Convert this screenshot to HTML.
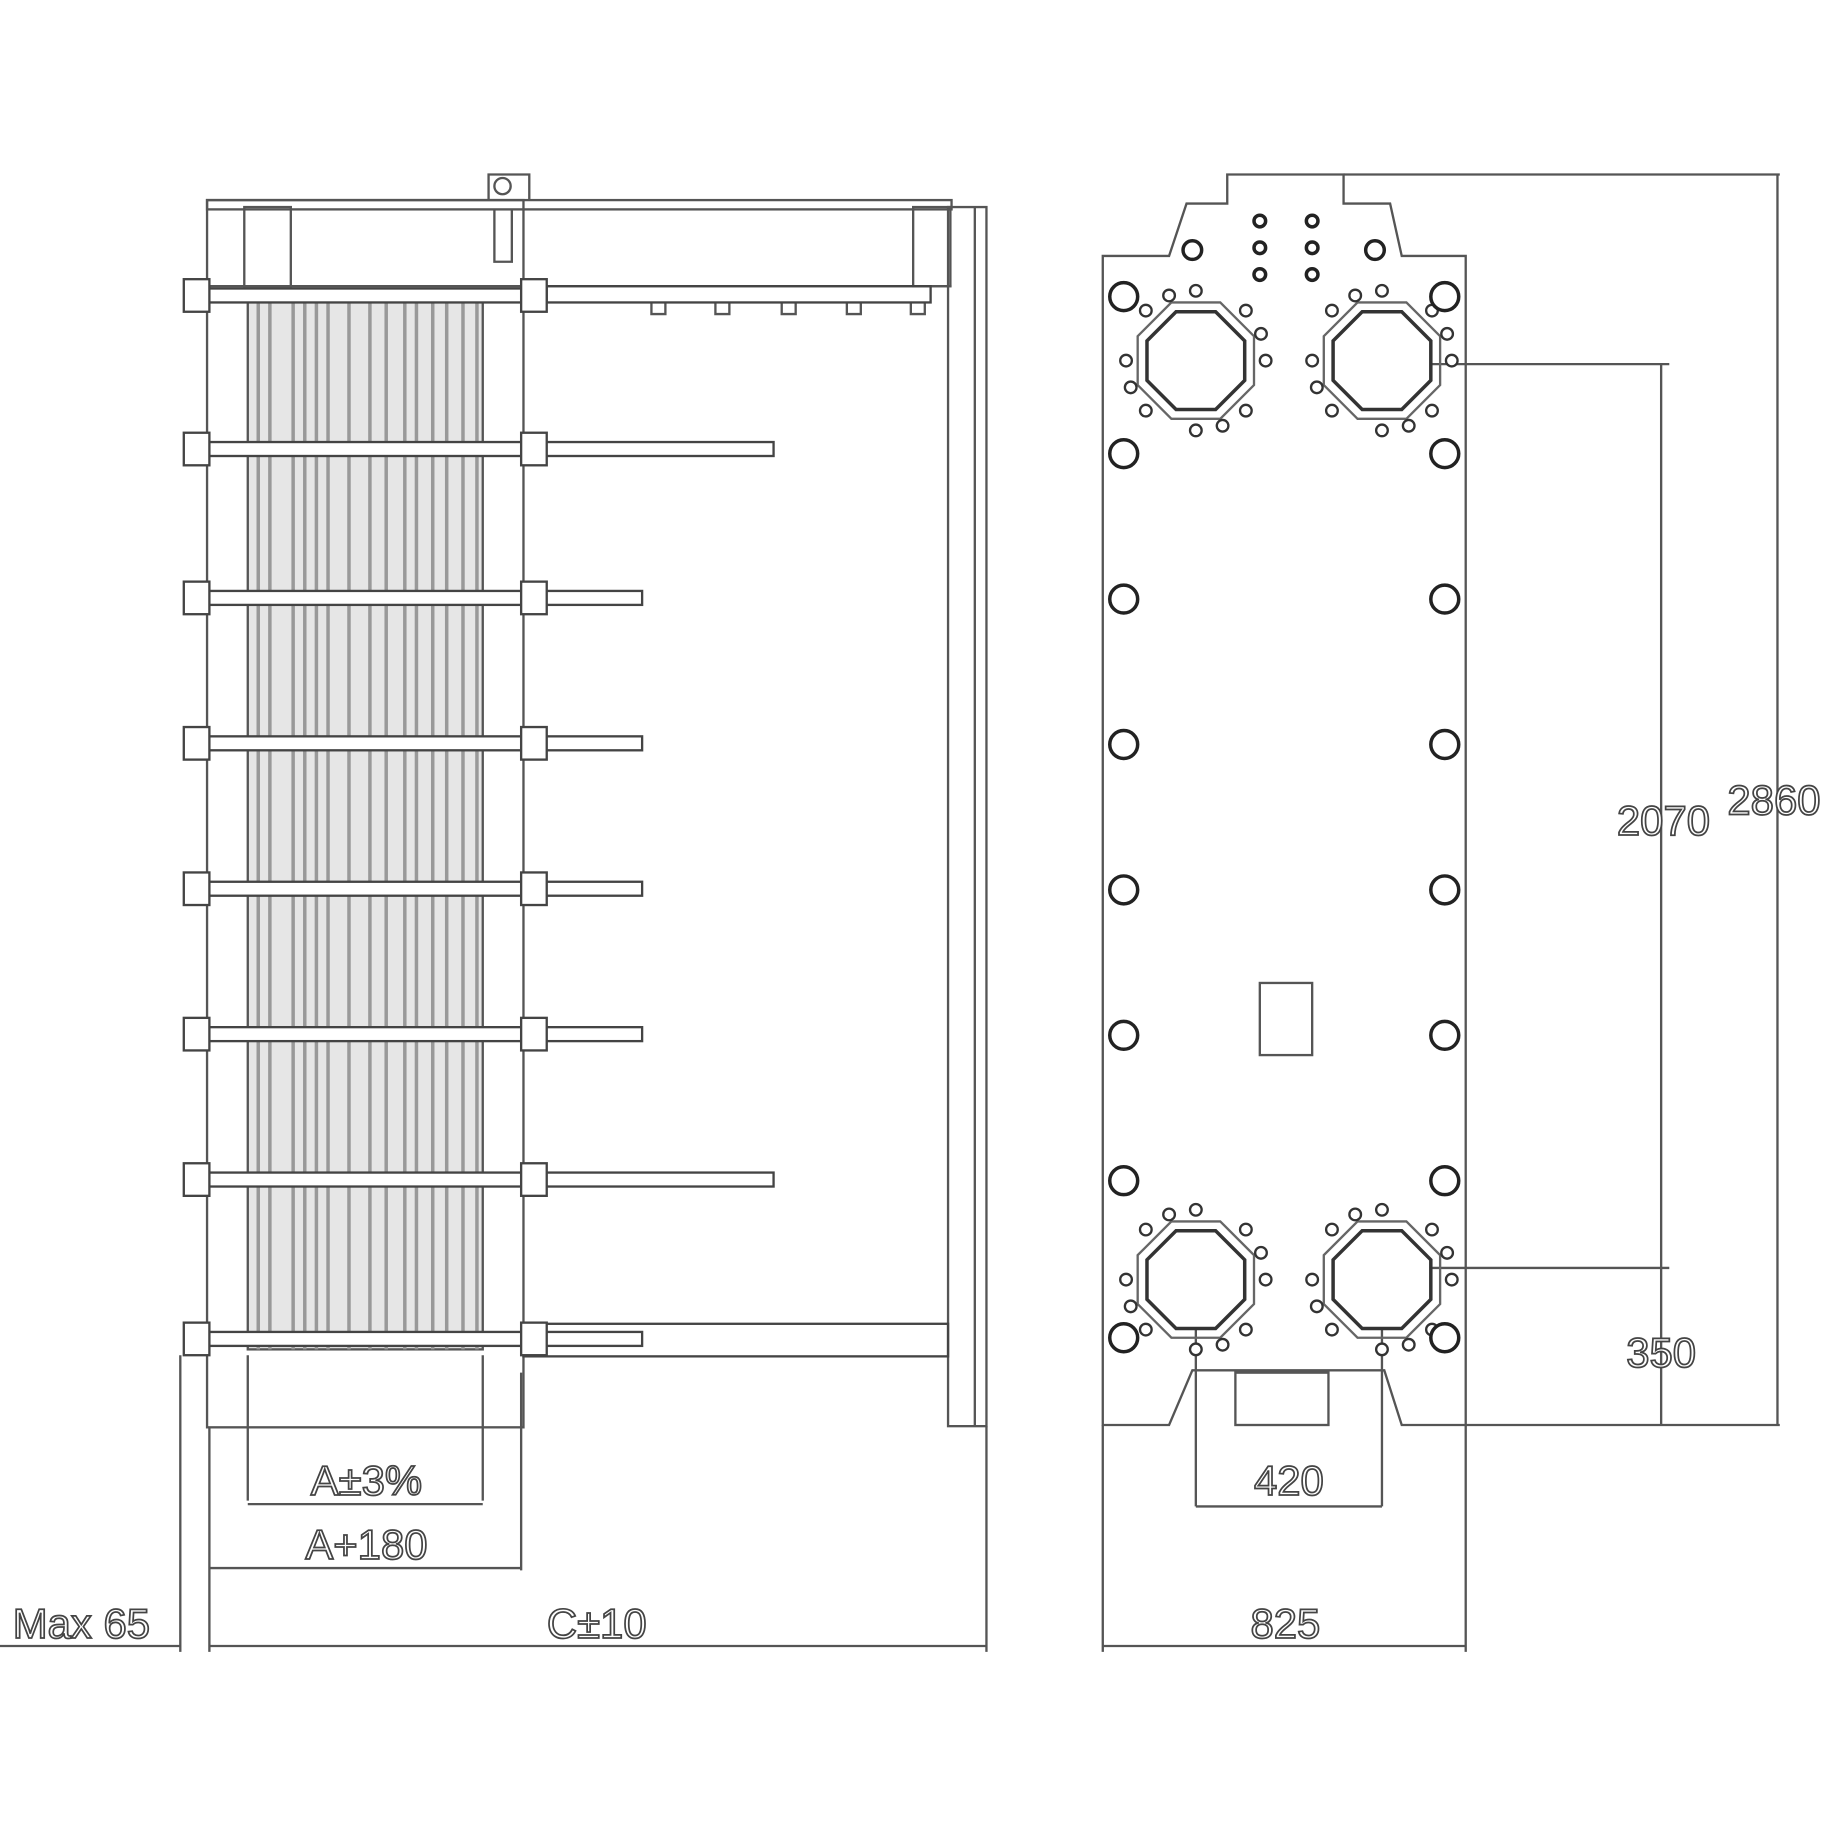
<!DOCTYPE html>
<html><head><meta charset="utf-8"><style>html,body{margin:0;padding:0;background:#fff}svg{display:block}</style></head><body>
<svg width="1824" height="1824" viewBox="0 0 1568 1568" xmlns="http://www.w3.org/2000/svg" font-family="Liberation Sans, sans-serif">
<defs>
<g id="port">
<polygon points="-17,-42 17,-42 42,-17 42,17 17,42 -17,42 -42,17 -42,-17" fill="#fff" stroke="#333" stroke-width="3"/>
<polygon points="-21,-50 21,-50 50,-21 50,21 21,50 -21,50 -50,21 -50,-21" fill="none" stroke="#666" stroke-width="2"/>
<g fill="#fff" stroke="#333" stroke-width="2">
<circle cx="0" cy="-60" r="5"/><circle cx="0" cy="60" r="5"/><circle cx="-60" cy="0" r="5"/><circle cx="60" cy="0" r="5"/>
<circle cx="-43" cy="-43" r="5"/><circle cx="43" cy="-43" r="5"/><circle cx="-43" cy="43" r="5"/><circle cx="43" cy="43" r="5"/>
<circle cx="-23" cy="-56" r="5"/><circle cx="23" cy="56" r="5"/><circle cx="-56" cy="23" r="5"/><circle cx="56" cy="-23" r="5"/>
</g>
</g>
</defs>
<g fill="none" stroke="#555" stroke-width="2">
<rect x="178" y="172" width="640" height="8"/>
<rect x="210" y="178" width="40" height="68"/>
<rect x="785" y="178" width="32" height="68"/>
<line x1="178" y1="246" x2="818" y2="246"/>
<path d="M420 172 V150 H455 V172 M425 180 V225 H440 V180"/>
<circle cx="432" cy="160" r="7"/>
<rect x="178" y="172" width="272" height="1055"/>
<rect x="815" y="178" width="33" height="1048"/>
<line x1="838" y1="178" x2="838" y2="1226"/>
<rect x="213" y="258" width="202" height="902" fill="#e6e6e6"/>
<path d="M560 260 V270 H572 V260 M615 260 V270 H627 V260 M672 260 V270 H684 V260 M728 260 V270 H740 V260 M783 260 V270 H795 V260"/>
</g>
<g stroke="#999" stroke-width="3">
<line x1="222" y1="258" x2="222" y2="1160"/><line x1="232" y1="258" x2="232" y2="1160"/>
<line x1="252" y1="258" x2="252" y2="1160"/><line x1="262" y1="258" x2="262" y2="1160"/>
<line x1="272" y1="258" x2="272" y2="1160"/><line x1="282" y1="258" x2="282" y2="1160"/>
<line x1="300" y1="258" x2="300" y2="1160"/><line x1="318" y1="258" x2="318" y2="1160"/>
<line x1="332" y1="258" x2="332" y2="1160"/><line x1="348" y1="258" x2="348" y2="1160"/>
<line x1="358" y1="258" x2="358" y2="1160"/><line x1="372" y1="258" x2="372" y2="1160"/>
<line x1="384" y1="258" x2="384" y2="1160"/><line x1="398" y1="258" x2="398" y2="1160"/>
<line x1="410" y1="258" x2="410" y2="1160"/>
</g>
<g fill="#fff" stroke="#444" stroke-width="2">
<rect x="160" y="248" width="290" height="12"/>
<rect x="160" y="380" width="290" height="12"/><rect x="450" y="380" width="215" height="12"/>
<rect x="160" y="508" width="290" height="12"/><rect x="450" y="508" width="102" height="12"/>
<rect x="160" y="633" width="290" height="12"/><rect x="450" y="633" width="102" height="12"/>
<rect x="160" y="758" width="290" height="12"/><rect x="450" y="758" width="102" height="12"/>
<rect x="160" y="883" width="290" height="12"/><rect x="450" y="883" width="102" height="12"/>
<rect x="160" y="1008" width="290" height="12"/><rect x="450" y="1008" width="215" height="12"/>
<rect x="160" y="1145" width="290" height="12"/><rect x="450" y="1145" width="102" height="12"/>
<rect x="450" y="1138" width="365" height="28" fill="none"/>
<rect x="470" y="246" width="330" height="14" fill="none"/>
<rect x="158" y="240" width="22" height="28"/><rect x="158" y="372" width="22" height="28"/>
<rect x="158" y="500" width="22" height="28"/><rect x="158" y="625" width="22" height="28"/>
<rect x="158" y="750" width="22" height="28"/><rect x="158" y="875" width="22" height="28"/>
<rect x="158" y="1000" width="22" height="28"/><rect x="158" y="1137" width="22" height="28"/>
<rect x="448" y="240" width="22" height="28"/><rect x="448" y="372" width="22" height="28"/>
<rect x="448" y="500" width="22" height="28"/><rect x="448" y="625" width="22" height="28"/>
<rect x="448" y="750" width="22" height="28"/><rect x="448" y="875" width="22" height="28"/>
<rect x="448" y="1000" width="22" height="28"/><rect x="448" y="1137" width="22" height="28"/>
</g>
<g fill="none" stroke="#555" stroke-width="2">
<path d="M213 1165 V1290 M415 1165 V1290 M180 1227 V1420 M448 1180 V1350 M155 1165 V1420 M848 1226 V1420"/>
<line x1="213" y1="1293" x2="415" y2="1293"/>
<line x1="180" y1="1348" x2="448" y2="1348"/>
<line x1="180" y1="1415" x2="848" y2="1415"/>
<line x1="0" y1="1415" x2="155" y2="1415"/>
<path d="M948 220 H1005 L1020 175 H1055 V150 H1155 V175 H1195 L1205 220 H1260 V1225 H1205 L1190 1178 H1025 L1005 1225 H948 Z"/>
<rect x="1083" y="845" width="45" height="62"/>
<rect x="1062" y="1180" width="80" height="45"/>
<line x1="1155" y1="150" x2="1530" y2="150"/>
<line x1="1190" y1="313" x2="1435" y2="313"/>
<line x1="1190" y1="1090" x2="1435" y2="1090"/>
<line x1="1260" y1="1225" x2="1530" y2="1225"/>
<line x1="1528" y1="150" x2="1528" y2="1225"/>
<line x1="1428" y1="313" x2="1428" y2="1225"/>
<path d="M1028 1100 V1295 M1188 1100 V1295 M948 1225 V1420 M1260 1225 V1420"/>
<line x1="1028" y1="1295" x2="1188" y2="1295"/>
<line x1="948" y1="1415" x2="1260" y2="1415"/>
</g>
<use href="#port" x="1028" y="310"/><use href="#port" x="1188" y="310"/>
<use href="#port" x="1028" y="1100"/><use href="#port" x="1188" y="1100"/>
<g fill="#fff" stroke="#222" stroke-width="3">
<circle cx="966" cy="255" r="12"/><circle cx="1242" cy="255" r="12"/>
<circle cx="966" cy="390" r="12"/><circle cx="1242" cy="390" r="12"/>
<circle cx="966" cy="515" r="12"/><circle cx="1242" cy="515" r="12"/>
<circle cx="966" cy="640" r="12"/><circle cx="1242" cy="640" r="12"/>
<circle cx="966" cy="765" r="12"/><circle cx="1242" cy="765" r="12"/>
<circle cx="966" cy="890" r="12"/><circle cx="1242" cy="890" r="12"/>
<circle cx="966" cy="1015" r="12"/><circle cx="1242" cy="1015" r="12"/>
<circle cx="966" cy="1150" r="12"/><circle cx="1242" cy="1150" r="12"/>
<circle cx="1083" cy="190" r="5"/><circle cx="1128" cy="190" r="5"/>
<circle cx="1083" cy="213" r="5"/><circle cx="1128" cy="213" r="5"/>
<circle cx="1083" cy="236" r="5"/><circle cx="1128" cy="236" r="5"/>
<circle cx="1025" cy="215" r="8"/><circle cx="1182" cy="215" r="8"/>
</g>
<g font-size="36" fill="#fff" stroke="#444" stroke-width="1.5" text-anchor="middle">
<text x="315" y="1285">A±3%</text>
<text x="315" y="1340">A+180</text>
<text x="513" y="1408">C±10</text>
<text x="70" y="1408">Max 65</text>
<text x="1108" y="1285">420</text>
<text x="1105" y="1408">825</text>
<text x="1428" y="1175">350</text>
<text x="1430" y="718">2070</text>
<text x="1525" y="700">2860</text>
</g>
</svg>
</body></html>
